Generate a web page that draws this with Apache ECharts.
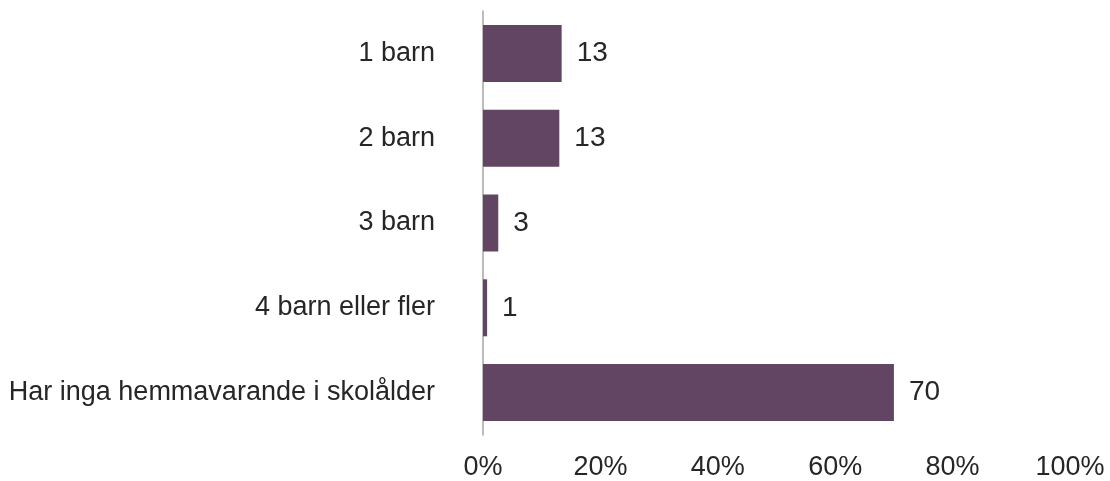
<!DOCTYPE html>
<html>
<head>
<meta charset="utf-8">
<script src="https://cdn.jsdelivr.net/npm/echarts@6/dist/echarts.min.js"></script>
<style>
html,body{margin:0;padding:0;background:#fff;}
#chart{width:1110px;height:481px;}
</style>
</head>
<body>
<div id="chart"></div>
<script>
var categories = ["1 barn", "2 barn", "3 barn", "4 barn eller fler", "Har inga hemmavarande i skolålder"];
var values = [13.4, 13.0, 2.6, 0.7, 70.0];
var labels = ["13", "13", "3", "1", "70"];
var xTicks = [0, 20, 40, 60, 80, 100];

var chart = echarts.init(document.getElementById('chart'));
chart.setOption({
  animation: false,
  grid: {left: 483, right: 40, top: 11, bottom: 43, containLabel: false},
  xAxis: {
    type: 'value', min: 0, max: 100, interval: 20,
    axisLine: {show: false}, axisTick: {show: false},
    splitLine: {show: false},
    axisLabel: {formatter: '{value}%', color: '#262626', fontSize: 27, fontFamily: 'Liberation Sans, Arial, sans-serif', margin: 19}
  },
  yAxis: {
    type: 'category', data: categories, inverse: true,
    axisLine: {show: true, lineStyle: {color: '#a6a6a6', width: 1.5}},
    axisTick: {show: false},
    axisLabel: {color: '#262626', fontSize: 27, fontFamily: 'Liberation Sans, Arial, sans-serif', margin: 48}
  },
  series: [{
    type: 'bar', data: values, barWidth: 57,
    itemStyle: {color: '#614563'},
    z: 1,
    label: {
      show: true, position: 'right', distance: 15,
      color: '#262626', fontSize: 28, fontFamily: 'Liberation Sans, Arial, sans-serif',
      formatter: function (p) { return labels[p.dataIndex]; }
    }
  }]
});
</script>
</body>
</html>
